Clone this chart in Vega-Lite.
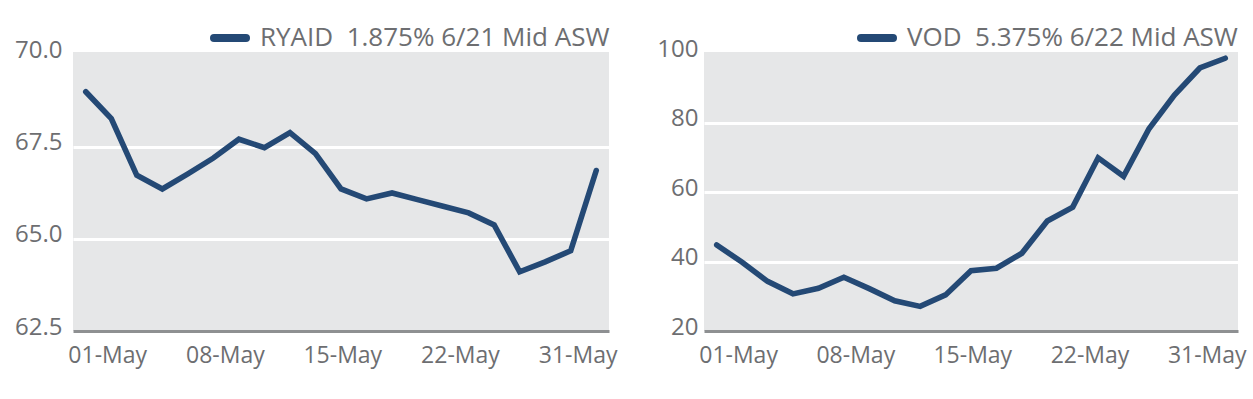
{
  "$schema": "https://vega.github.io/schema/vega-lite/v6.json",
  "padding": {"left": 14, "top": 18, "right": 8, "bottom": 12},
  "background": "white",
  "config": {
    "font": "Open Sans",
    "view": {"fill": "#e6e7e8", "stroke": null},
    "axis": {"labelFont": "Open Sans", "labelFontSize": 23, "labelColor": "#6d6e71", "ticks": false, "title": null},
    "legend": {"labelFont": "Open Sans", "labelFontSize": 26, "labelColor": "#6d6e71", "padding": 0, "labelLimit": 0}
  },
  "spacing": 39,
  "hconcat": [
    {
      "width": 536,
      "height": 279,
      "data": {"values": [
        {"i": 0, "date": "2019-05-01", "series": "RYAID\u00a0 1.875% 6/21 Mid ASW", "asw": 69.0},
        {"i": 1, "date": "2019-05-02", "series": "RYAID\u00a0 1.875% 6/21 Mid ASW", "asw": 68.27},
        {"i": 2, "date": "2019-05-03", "series": "RYAID\u00a0 1.875% 6/21 Mid ASW", "asw": 66.73},
        {"i": 3, "date": "2019-05-07", "series": "RYAID\u00a0 1.875% 6/21 Mid ASW", "asw": 66.36},
        {"i": 4, "date": "2019-05-08", "series": "RYAID\u00a0 1.875% 6/21 Mid ASW", "asw": 66.77},
        {"i": 5, "date": "2019-05-09", "series": "RYAID\u00a0 1.875% 6/21 Mid ASW", "asw": 67.2},
        {"i": 6, "date": "2019-05-10", "series": "RYAID\u00a0 1.875% 6/21 Mid ASW", "asw": 67.71},
        {"i": 7, "date": "2019-05-13", "series": "RYAID\u00a0 1.875% 6/21 Mid ASW", "asw": 67.48},
        {"i": 8, "date": "2019-05-14", "series": "RYAID\u00a0 1.875% 6/21 Mid ASW", "asw": 67.89},
        {"i": 9, "date": "2019-05-15", "series": "RYAID\u00a0 1.875% 6/21 Mid ASW", "asw": 67.32},
        {"i": 10, "date": "2019-05-16", "series": "RYAID\u00a0 1.875% 6/21 Mid ASW", "asw": 66.36},
        {"i": 11, "date": "2019-05-17", "series": "RYAID\u00a0 1.875% 6/21 Mid ASW", "asw": 66.09},
        {"i": 12, "date": "2019-05-20", "series": "RYAID\u00a0 1.875% 6/21 Mid ASW", "asw": 66.25},
        {"i": 13, "date": "2019-05-21", "series": "RYAID\u00a0 1.875% 6/21 Mid ASW", "asw": 66.07},
        {"i": 14, "date": "2019-05-22", "series": "RYAID\u00a0 1.875% 6/21 Mid ASW", "asw": 65.89},
        {"i": 15, "date": "2019-05-23", "series": "RYAID\u00a0 1.875% 6/21 Mid ASW", "asw": 65.71},
        {"i": 16, "date": "2019-05-24", "series": "RYAID\u00a0 1.875% 6/21 Mid ASW", "asw": 65.38},
        {"i": 17, "date": "2019-05-28", "series": "RYAID\u00a0 1.875% 6/21 Mid ASW", "asw": 64.11},
        {"i": 18, "date": "2019-05-29", "series": "RYAID\u00a0 1.875% 6/21 Mid ASW", "asw": 64.38},
        {"i": 19, "date": "2019-05-30", "series": "RYAID\u00a0 1.875% 6/21 Mid ASW", "asw": 64.68},
        {"i": 20, "date": "2019-05-31", "series": "RYAID\u00a0 1.875% 6/21 Mid ASW", "asw": 66.86}
      ]},
      "mark": {"type": "line", "strokeWidth": 5.6, "strokeCap": "round"},
      "encoding": {
        "x": {"field": "i", "type": "quantitative",
          "scale": {"domain": [-0.5, 20.5], "nice": false, "zero": false},
          "axis": {"values": [0.84, 5.45, 10.05, 14.66, 19.27], "grid": false, "domain": true, "domainColor": "#8e9092", "domainWidth": 3, "labelPadding": 13, "labelFlush": false, "labelOverlap": false,
            "labelExpr": "datum.value < 3 ? '01-May' : datum.value < 8 ? '08-May' : datum.value < 12 ? '15-May' : datum.value < 17 ? '22-May' : '31-May'"}},
        "y": {"field": "asw", "type": "quantitative",
          "scale": {"domain": [62.5, 70.08], "nice": false, "zero": false},
          "axis": {"values": [62.5, 65, 67.5, 70], "format": ".1f", "domain": false, "labelPadding": 11, "labelOffset": -4, "labelFontSize": 24,
            "grid": true, "gridColor": "white", "gridWidth": 3,
            "gridOpacity": {"condition": {"test": "datum.value > 62.6 && datum.value < 69.9", "value": 1}, "value": 0}}},
        "color": {"field": "series", "type": "nominal", "scale": {"range": ["#244975"]},
          "legend": {"title": null, "orient": "none", "legendX": 137, "legendY": -34, "symbolType": "stroke", "symbolSize": 1024, "symbolStrokeWidth": 8, "labelOffset": 10,
            "encode": {"symbols": {"update": {"strokeCap": {"value": "round"}}}}}}
      }
    },
    {
      "width": 534,
      "height": 279,
      "data": {"values": [
        {"i": 0, "date": "2019-05-01", "series": "VOD\u00a0 5.375% 6/22 Mid ASW", "asw": 44.8},
        {"i": 1, "date": "2019-05-02", "series": "VOD\u00a0 5.375% 6/22 Mid ASW", "asw": 39.8},
        {"i": 2, "date": "2019-05-03", "series": "VOD\u00a0 5.375% 6/22 Mid ASW", "asw": 34.3},
        {"i": 3, "date": "2019-05-07", "series": "VOD\u00a0 5.375% 6/22 Mid ASW", "asw": 30.7},
        {"i": 4, "date": "2019-05-08", "series": "VOD\u00a0 5.375% 6/22 Mid ASW", "asw": 32.3},
        {"i": 5, "date": "2019-05-09", "series": "VOD\u00a0 5.375% 6/22 Mid ASW", "asw": 35.5},
        {"i": 6, "date": "2019-05-10", "series": "VOD\u00a0 5.375% 6/22 Mid ASW", "asw": 32.2},
        {"i": 7, "date": "2019-05-13", "series": "VOD\u00a0 5.375% 6/22 Mid ASW", "asw": 28.7},
        {"i": 8, "date": "2019-05-14", "series": "VOD\u00a0 5.375% 6/22 Mid ASW", "asw": 27.1},
        {"i": 9, "date": "2019-05-15", "series": "VOD\u00a0 5.375% 6/22 Mid ASW", "asw": 30.4},
        {"i": 10, "date": "2019-05-16", "series": "VOD\u00a0 5.375% 6/22 Mid ASW", "asw": 37.4},
        {"i": 11, "date": "2019-05-17", "series": "VOD\u00a0 5.375% 6/22 Mid ASW", "asw": 38.1},
        {"i": 12, "date": "2019-05-20", "series": "VOD\u00a0 5.375% 6/22 Mid ASW", "asw": 42.4},
        {"i": 13, "date": "2019-05-21", "series": "VOD\u00a0 5.375% 6/22 Mid ASW", "asw": 51.7},
        {"i": 14, "date": "2019-05-22", "series": "VOD\u00a0 5.375% 6/22 Mid ASW", "asw": 55.7},
        {"i": 15, "date": "2019-05-23", "series": "VOD\u00a0 5.375% 6/22 Mid ASW", "asw": 69.9},
        {"i": 16, "date": "2019-05-24", "series": "VOD\u00a0 5.375% 6/22 Mid ASW", "asw": 64.6},
        {"i": 17, "date": "2019-05-28", "series": "VOD\u00a0 5.375% 6/22 Mid ASW", "asw": 78.3},
        {"i": 18, "date": "2019-05-29", "series": "VOD\u00a0 5.375% 6/22 Mid ASW", "asw": 88.0},
        {"i": 19, "date": "2019-05-30", "series": "VOD\u00a0 5.375% 6/22 Mid ASW", "asw": 95.8},
        {"i": 20, "date": "2019-05-31", "series": "VOD\u00a0 5.375% 6/22 Mid ASW", "asw": 98.6}
      ]},
      "mark": {"type": "line", "strokeWidth": 5.6, "strokeCap": "round"},
      "encoding": {
        "x": {"field": "i", "type": "quantitative",
          "scale": {"domain": [-0.5, 20.5], "nice": false, "zero": false},
          "axis": {"values": [0.84, 5.45, 10.05, 14.66, 19.27], "grid": false, "domain": true, "domainColor": "#8e9092", "domainWidth": 3, "labelPadding": 13, "labelFlush": false, "labelOverlap": false,
            "labelExpr": "datum.value < 3 ? '01-May' : datum.value < 8 ? '08-May' : datum.value < 12 ? '15-May' : datum.value < 17 ? '22-May' : '31-May'"}},
        "y": {"field": "asw", "type": "quantitative",
          "scale": {"domain": [20, 100.4], "nice": false, "zero": false},
          "axis": {"values": [20, 40, 60, 80, 100], "domain": false, "labelPadding": 6, "labelOffset": -4, "labelFontSize": 24,
            "grid": true, "gridColor": "white", "gridWidth": 3,
            "gridOpacity": {"condition": {"test": "datum.value > 21 && datum.value < 99", "value": 1}, "value": 0}}},
        "color": {"field": "series", "type": "nominal", "scale": {"range": ["#244975"]},
          "legend": {"title": null, "orient": "none", "legendX": 153, "legendY": -34, "symbolType": "stroke", "symbolSize": 1024, "symbolStrokeWidth": 8, "labelOffset": 10,
            "encode": {"symbols": {"update": {"strokeCap": {"value": "round"}}}}}}
      }
    }
  ],
  "resolve": {"scale": {"color": "independent"}, "legend": {"color": "independent"}}
}
